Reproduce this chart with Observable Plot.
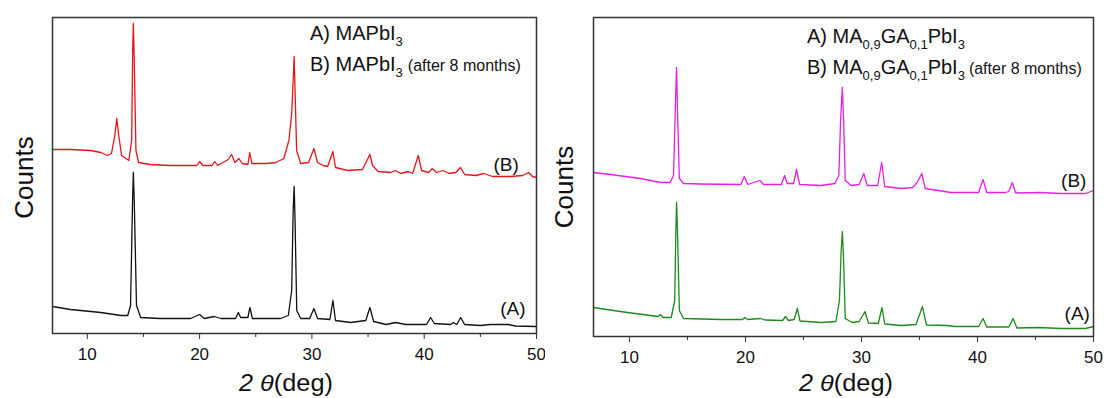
<!DOCTYPE html>
<html>
<head>
<meta charset="utf-8">
<script src="https://cdn.jsdelivr.net/npm/d3@7"></script>
<script src="https://cdn.jsdelivr.net/npm/@observablehq/plot@0.6"></script>
<style>
  body { margin: 0; background: #fff; }
  #wrap { position: relative; width: 1105px; height: 398px; overflow: hidden; background: #fff;
          font-family: "Liberation Sans", Arial, sans-serif; }
  #left, #right { position: absolute; top: 0; }
  #left { left: 0; }
  #right { left: 545px; }
  svg { overflow: visible; }
</style>
</head>
<body>
<div id="wrap"><div id="left"></div><div id="right"></div></div>
<script>
// ---- Data (2θ in degrees, intensity in arbitrary counts) ----
const majorTicks = [10, 20, 30, 40, 50];
const minorTicks = [15, 25, 35, 45];

// Left panel: MAPbI3 fresh (A) and after 8 months (B)
const mapbi3Fresh = [[6.9,27],[8.5,24],[11.2,21],[13.0,18],[13.6,18],[13.85,28],[14.03,133],[14.1,161],[14.18,133],[14.38,28],[14.75,16],[16.5,15],[19.2,15],[20.0,19],[20.4,15],[21.3,17],[21.9,15],[23.2,15],[23.45,21],[23.65,16],[24.3,16],[24.48,26],[24.7,15],[27.2,15],[27.9,18],[28.2,43],[28.33,123],[28.42,147],[28.5,113],[28.65,23],[29.0,15],[29.8,15],[30.18,25],[30.5,15],[31.6,14],[31.87,33],[32.1,13],[33.45,11],[34.8,13],[35.16,26],[35.5,12],[36.6,9],[37.45,11],[38.35,9],[40.2,9],[40.57,16],[40.9,10],[42.35,9],[42.6,11],[42.9,9],[43.25,16],[43.6,9],[45.0,8],[45.9,9],[47.5,9],[48.1,7.5],[50,7]];
const mapbi3Aged = [[6.9,184],[8.5,184],[10.3,183],[11.2,181],[11.8,178],[12.15,180],[12.45,198],[12.62,215],[12.8,198],[13.05,178],[13.7,173],[13.95,193],[14.04,283],[14.1,310],[14.18,273],[14.33,183],[14.57,171],[15.6,169],[17.4,168],[19.2,168],[19.75,168],[20.0,172],[20.3,168],[21.1,168],[21.35,172],[21.6,168],[22.55,174],[22.85,179],[23.15,171],[23.5,175],[23.8,170],[24.3,169],[24.46,181],[24.65,170],[25.9,170],[26.8,171],[27.5,175],[27.95,193],[28.2,220],[28.33,253],[28.42,277],[28.5,243],[28.64,183],[29.0,170],[29.7,171],[30.18,185],[30.5,171],[31.0,168],[31.4,167],[31.87,182],[32.1,166],[33.2,163],[34.5,164],[34.9,173],[35.16,179],[35.4,168],[35.9,162],[37.0,161],[37.45,163],[37.9,160],[38.6,162],[38.97,160],[39.47,178],[39.77,163],[40.4,161],[40.72,165],[41.1,161],[41.67,163],[42.2,160],[42.8,161],[43.24,166],[43.6,159],[44.6,158],[45.3,160],[46.1,157],[47.7,157],[48.77,158],[49.3,161],[49.65,157],[50,156]];

// Right panel: MA0.9GA0.1PbI3 fresh (A) and after 8 months (B)
const maGaFresh = [[6.9,29],[9.2,25],[11.8,21],[12.5,20],[12.67,22],[12.9,19],[13.6,19],[13.9,36],[14.0,106],[14.06,134],[14.14,106],[14.3,26],[14.66,18],[17.85,17],[19.75,17],[19.95,19],[20.2,17],[21.3,18],[21.7,16.5],[23.2,16],[23.45,20],[23.7,16],[24.2,17],[24.47,28],[24.7,15.5],[26.5,14],[27.8,15],[28.1,36],[28.25,86],[28.35,105],[28.46,76],[28.6,18],[29.2,14],[29.8,15],[30.3,25],[30.6,13.5],[31.45,13],[31.77,29],[32.0,12.5],[33.4,11],[34.7,12],[35.25,30],[35.6,11.5],[37.4,11],[38.1,10],[40.1,10],[40.48,18],[40.8,9.5],[42.7,9.5],[43.07,18],[43.4,8.5],[45.3,9],[47.2,8],[49.3,8],[50,10]];
const maGaAged = [[6.9,164],[8.36,162],[10.95,158],[12.67,154],[13.5,154],[13.8,161],[13.97,236],[14.06,269],[14.14,226],[14.3,158],[14.66,153],[16.1,152.5],[19.6,152],[19.9,160],[20.2,152],[21.24,156],[21.56,152],[23.1,152],[23.37,161],[23.6,153],[24.15,153],[24.4,167],[24.67,152],[26.5,151],[27.7,153],[28.05,161],[28.2,216],[28.35,249],[28.46,216],[28.6,156],[29.1,151],[29.8,152],[30.2,163],[30.5,151],[31.4,151],[31.74,174],[32.0,150],[33.4,148],[34.4,149],[34.8,154],[35.2,163],[35.5,148],[37.7,144],[40.1,144],[40.48,157],[40.8,144],[42.4,144],[42.7,145],[43.0,154],[43.3,143.5],[45.3,144],[47.2,143],[49.3,143],[50,146]];

const leftCurveLabels = [{x: 47.3, y: 168.5, t: "(B)"}, {x: 47.9, y: 24.5, t: "(A)"}];
const rightCurveLabels = [{x: 48.3, y: 156, t: "(B)"}, {x: 48.6, y: 22.5, t: "(A)"}];

const FONT = '"Liberation Sans", Arial, sans-serif';

function panel({width, marginLeft, marginRight, marginBottom, yMax, series, labels}) {
  return Plot.plot({
    width, height: 398, marginLeft, marginRight, marginTop: 17, marginBottom,
    style: {fontFamily: FONT, fontSize: "17px", color: "#111", background: "white", overflow: "visible"},
    x: {domain: [6.9, 50], axis: null},
    y: {domain: [0, yMax], axis: null},
    marks: [
      ...series.map(s => Plot.line(s.data, {x: d => d[0], y: d => d[1], stroke: s.color, strokeWidth: 1.3})),
      Plot.text(labels, {x: "x", y: "y", text: "t", fontSize: 19, fill: "#111"}),
      Plot.frame({stroke: "#333", strokeWidth: 1.5}),
      Plot.axisX(majorTicks, {anchor: "bottom", label: null, tickSize: 6, tickPadding: 8, stroke: "#333", fontSize: 17, tickFormat: d => String(d)}),
      Plot.axisX(minorTicks, {anchor: "bottom", label: null, tickSize: 4, stroke: "#333", tickFormat: () => ""})
    ]
  });
}

function richText(svg, x, y, size, parts) {
  const t = svg.append("text").attr("x", x).attr("y", y).attr("font-size", size)
    .attr("text-anchor", "start").attr("fill", "#111").attr("font-family", FONT);
  let shifted = 0;
  parts.forEach(p => {
    const sp = t.append("tspan").text(p.t);
    const want = p.sub ? 6 : 0;
    if (want !== shifted) { sp.attr("dy", want - shifted); shifted = want; }
    if (p.sub) sp.attr("font-size", 13);
    if (p.size) sp.attr("font-size", p.size);
    if (p.dx) sp.attr("dx", p.dx);
  });
  return t;
}

function decorate(el, o) {
  const svg = d3.select(el.tagName.toLowerCase() === "svg" ? el : el.querySelector("svg"));
  svg.append("text")
    .attr("transform", `translate(${o.countsX},${o.countsY}) rotate(-90)`)
    .attr("text-anchor", "middle").attr("font-size", 26).attr("fill", "#111")
    .attr("font-family", FONT).text("Counts");
  const title = svg.append("text").attr("x", o.titleX).attr("y", o.titleY)
    .attr("text-anchor", "middle").attr("font-size", 23).attr("fill", "#111")
    .attr("font-family", FONT).attr("textLength", 94).attr("lengthAdjust", "spacingAndGlyphs");
  title.append("tspan").attr("font-style", "italic").text("2 θ");
  title.append("tspan").text("(deg)");
  richText(svg, o.legX, o.legA, 20, o.partsA);
  richText(svg, o.legX, o.legB, 20, o.partsB);
}

const left = panel({
  width: 545, marginLeft: 52, marginRight: 9, marginBottom: 65, yMax: 316,
  series: [{data: mapbi3Fresh, color: "#111111"}, {data: mapbi3Aged, color: "#e8141b"}],
  labels: leftCurveLabels
});
document.getElementById("left").appendChild(left);
decorate(left, {
  countsX: 33, countsY: 177.5, titleX: 286, titleY: 391,
  legX: 310, legA: 40, legB: 71,
  partsA: [{t: "A) MAPbI"}, {t: "3", sub: true}],
  partsB: [{t: "B) MAPbI"}, {t: "3", sub: true}, {t: "(after 8 months)", size: 16, dx: 5}]
});

const right = panel({
  width: 560, marginLeft: 48, marginRight: 12, marginBottom: 62, yMax: 319,
  series: [{data: maGaFresh, color: "#1c8a1c"}, {data: maGaAged, color: "#e61ee6"}],
  labels: rightCurveLabels
});
document.getElementById("right").appendChild(right);
decorate(right, {
  countsX: 28, countsY: 187, titleX: 301, titleY: 391,
  legX: 262, legA: 43, legB: 74,
  partsA: [{t: "A) MA"}, {t: "0,9", sub: true}, {t: "GA"}, {t: "0,1", sub: true}, {t: "PbI"}, {t: "3", sub: true}],
  partsB: [{t: "B) MA"}, {t: "0,9", sub: true}, {t: "GA"}, {t: "0,1", sub: true}, {t: "PbI"}, {t: "3", sub: true}, {t: "(after 8 months)", size: 16, dx: 4}]
});
</script>
</body>
</html>
